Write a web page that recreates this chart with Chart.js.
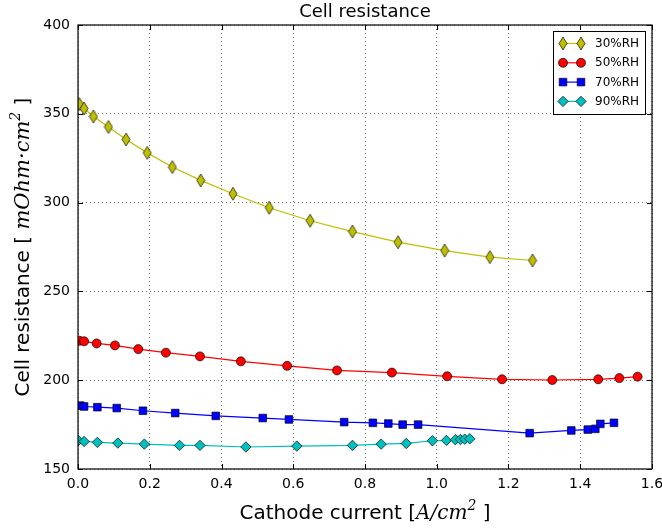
<!DOCTYPE html>
<html>
<head>
<meta charset="utf-8">
<script src="https://cdn.jsdelivr.net/npm/chart.js@4.4.1/dist/chart.umd.min.js"></script>
<style>
  html, body { margin: 0; padding: 0; background: #fff; }
  #wrap { width: 662px; height: 529px; position: relative; }
</style>
</head>
<body>
<div id="wrap"><canvas id="chart"></canvas></div>
<script>
const xTicks = [0, 0.2, 0.4, 0.6, 0.8, 1.0, 1.2, 1.4, 1.6];
const yTicks = [150, 200, 250, 300, 350, 400];

const seriesNames = ['30%RH', '50%RH', '70%RH', '90%RH'];

const current30 = [0.004, 0.017, 0.043, 0.085, 0.134, 0.193, 0.263, 0.342, 0.432, 0.533, 0.647, 0.765, 0.892, 1.022, 1.148, 1.267];
const resist30 = [355.4, 353.0, 348.5, 342.6, 335.5, 328.0, 320.0, 312.5, 305.0, 297.1, 289.8, 283.7, 277.7, 273.0, 269.3, 267.4];

const current50 = [0.004, 0.017, 0.052, 0.103, 0.168, 0.245, 0.340, 0.454, 0.583, 0.722, 0.875, 1.029, 1.182, 1.322, 1.450, 1.509, 1.560];
const resist50 = [222.2, 221.9, 220.7, 219.6, 217.5, 215.5, 213.4, 210.6, 208.1, 205.5, 204.3, 202.2, 200.5, 200.1, 200.5, 201.2, 202.0];

const current70 = [0.006, 0.017, 0.054, 0.108, 0.181, 0.271, 0.384, 0.515, 0.588, 0.742, 0.822, 0.865, 0.905, 0.948, 1.259, 1.375, 1.421, 1.442, 1.456, 1.494];
const resist70 = [185.7, 185.2, 184.8, 184.3, 182.8, 181.5, 179.9, 178.7, 177.9, 176.4, 176.0, 175.6, 175.0, 175.0, 170.2, 171.7, 172.2, 172.6, 175.4, 176.0];

const current90 = [0.001, 0.017, 0.054, 0.111, 0.185, 0.283, 0.340, 0.468, 0.610, 0.765, 0.845, 0.915, 0.988, 1.027, 1.052, 1.066, 1.078, 1.092];
const resist90 = [166.1, 165.5, 165.0, 164.6, 164.0, 163.3, 163.3, 162.4, 162.9, 163.3, 164.0, 164.4, 165.9, 166.1, 166.5, 166.6, 166.8, 167.0];

const colors = ['#bfbf00', '#ff0000', '#0000ff', '#00bfbf'];
const edge = 'rgba(0,0,0,0.75)';
const SANS = '"DejaVu Sans", sans-serif';
const SERIF = '"DejaVu Serif", serif';

function pairs(xs, ys) {
  return xs.map((x, i) => ({ x: x, y: ys[i] }));
}

// thin diamond marker (matplotlib 'd'), drawn once into a small canvas
function thinDiamond(w, h, fill) {
  const c = document.createElement('canvas');
  c.width = w + 2;
  c.height = h + 2;
  const g = c.getContext('2d');
  g.beginPath();
  g.moveTo(c.width / 2, 1);
  g.lineTo(c.width - 1, c.height / 2);
  g.lineTo(c.width / 2, c.height - 1);
  g.lineTo(1, c.height / 2);
  g.closePath();
  g.fillStyle = fill;
  g.fill();
  g.strokeStyle = edge;
  g.lineWidth = 0.9;
  g.stroke();
  return c;
}
const thin30 = thinDiamond(8, 13, colors[0]);

function drawMarker(ctx, i, x, y) {
  ctx.save();
  ctx.fillStyle = colors[i];
  ctx.strokeStyle = edge;
  ctx.lineWidth = 0.9;
  ctx.beginPath();
  if (i === 0) {
    ctx.drawImage(thin30, x - thin30.width / 2, y - thin30.height / 2);
    ctx.restore();
    return;
  } else if (i === 1) {
    ctx.arc(x, y, 4.5, 0, Math.PI * 2);
  } else if (i === 2) {
    ctx.rect(x - 3.8, y - 3.8, 7.6, 7.6);
  } else {
    ctx.moveTo(x, y - 5.2); ctx.lineTo(x + 5.2, y); ctx.lineTo(x, y + 5.2); ctx.lineTo(x - 5.2, y);
    ctx.closePath();
  }
  ctx.fill();
  ctx.stroke();
  ctx.restore();
}

// text made of pieces with different fonts (plain + math italic + superscript)
function drawPieces(ctx, pieces, cx, baseY) {
  let total = 0;
  pieces.forEach(p => { ctx.font = p.font; p.w = ctx.measureText(p.text).width; total += p.w; });
  let x = cx - total / 2;
  ctx.textAlign = 'left';
  ctx.textBaseline = 'alphabetic';
  pieces.forEach(p => {
    ctx.font = p.font;
    ctx.fillText(p.text, x, baseY + (p.dy || 0));
    x += p.w;
  });
}

const framePlugin = {
  id: 'frame',
  afterDraw(chart) {
    const ctx = chart.ctx;
    const a = chart.chartArea;
    const xs = chart.scales.x, ys = chart.scales.y;
    ctx.save();
    ctx.fillStyle = '#000';
    ctx.strokeStyle = '#000';

    // inward tick marks on all four sides
    ctx.lineWidth = 1;
    ctx.beginPath();
    xTicks.forEach(v => {
      const px = Math.round(xs.getPixelForValue(v)) + 0.5;
      ctx.moveTo(px, a.bottom); ctx.lineTo(px, a.bottom - 5);
      ctx.moveTo(px, a.top); ctx.lineTo(px, a.top + 5);
    });
    yTicks.forEach(v => {
      const py = Math.round(ys.getPixelForValue(v)) + 0.5;
      ctx.moveTo(a.left, py); ctx.lineTo(a.left + 5, py);
      ctx.moveTo(a.right, py); ctx.lineTo(a.right - 5, py);
    });
    ctx.stroke();

    // axes box
    ctx.lineWidth = 1.2;
    ctx.strokeRect(a.left, a.top, a.right - a.left, a.bottom - a.top);

    // title
    ctx.font = '18px ' + SANS;
    ctx.textAlign = 'center';
    ctx.textBaseline = 'middle';
    ctx.fillText('Cell resistance', (a.left + a.right) / 2, 12);

    // x axis title
    drawPieces(ctx, [
      { text: 'Cathode current [', font: '20px ' + SANS },
      { text: 'A/cm', font: 'italic 20px ' + SERIF },
      { text: '2', font: 'italic 14px ' + SERIF, dy: -9 },
      { text: ' ]', font: '20px ' + SANS }
    ], (a.left + a.right) / 2, 519);

    // y axis title
    ctx.save();
    ctx.translate(22, (a.top + a.bottom) / 2);
    ctx.rotate(-Math.PI / 2);
    drawPieces(ctx, [
      { text: 'Cell resistance [ ', font: '20px ' + SANS },
      { text: 'mOhm\u00b7cm', font: 'italic 21px ' + SERIF },
      { text: '2', font: 'italic 14px ' + SERIF, dy: -9 },
      { text: ' ]', font: '20px ' + SANS }
    ], 0, 7);
    ctx.restore();

    // legend
    const lx = 553.5, ly = 31.5, lw = 92, lh = 83;
    ctx.fillStyle = '#fff';
    ctx.fillRect(lx, ly, lw, lh);
    ctx.lineWidth = 1;
    ctx.strokeStyle = '#000';
    ctx.strokeRect(lx, ly, lw, lh);
    seriesNames.forEach((name, i) => {
      const y = 43.5 + i * 19.3;
      ctx.strokeStyle = colors[i];
      ctx.lineWidth = 1.2;
      ctx.beginPath();
      ctx.moveTo(563, y); ctx.lineTo(581, y);
      ctx.stroke();
      drawMarker(ctx, i, 563, y);
      drawMarker(ctx, i, 581, y);
      ctx.fillStyle = '#000';
      ctx.font = '12px ' + SANS;
      ctx.textAlign = 'left';
      ctx.textBaseline = 'middle';
      ctx.fillText(name, 595, y + 0.5);
    });
    ctx.restore();
  }
};

function makeSet(i, xs, ys, style, radius) {
  return {
    label: seriesNames[i],
    data: pairs(xs, ys),
    borderColor: colors[i],
    backgroundColor: colors[i],
    borderWidth: 1.2,
    pointStyle: style,
    pointRadius: radius,
    pointBackgroundColor: colors[i],
    pointBorderColor: edge,
    pointBorderWidth: 0.9,
    tension: 0,
    clip: 0
  };
}

Chart.defaults.color = '#000';
Chart.defaults.font.family = SANS;

new Chart(document.getElementById('chart').getContext('2d'), {
  type: 'line',
  data: {
    datasets: [
      makeSet(0, current30, resist30, thin30, 6),
      makeSet(1, current50, resist50, 'circle', 4.5),
      makeSet(2, current70, resist70, 'rect', 5.4),
      makeSet(3, current90, resist90, 'rectRot', 5.2)
    ]
  },
  options: {
    responsive: true,
    maintainAspectRatio: false,
    animation: false,
    layout: { padding: { left: 0, top: 25, right: 10, bottom: 0 } },
    plugins: {
      legend: { display: false },
      tooltip: { enabled: false }
    },
    scales: {
      x: {
        type: 'linear',
        min: 0,
        max: 1.6,
        afterBuildTicks: s => { s.ticks = xTicks.map(v => ({ value: v })); },
        afterFit: s => { s.height = 60; s.paddingLeft = 0; s.paddingRight = 0; },
        ticks: {
          padding: 7,
          font: { size: 14 },
          callback: v => v.toFixed(1)
        },
        grid: { color: 'rgba(0,0,0,0.55)', lineWidth: 1, drawTicks: false },
        border: { display: false, dash: [1, 3] }
      },
      y: {
        type: 'linear',
        min: 150,
        max: 400,
        afterBuildTicks: s => { s.ticks = yTicks.map(v => ({ value: v })); },
        afterFit: s => { s.width = 78; s.paddingTop = 0; s.paddingBottom = 0; },
        ticks: {
          padding: 8,
          font: { size: 14 },
          callback: v => String(v)
        },
        grid: { color: 'rgba(0,0,0,0.55)', lineWidth: 1, drawTicks: false },
        border: { display: false, dash: [1, 3] }
      }
    }
  },
  plugins: [framePlugin]
});
</script>
</body>
</html>
